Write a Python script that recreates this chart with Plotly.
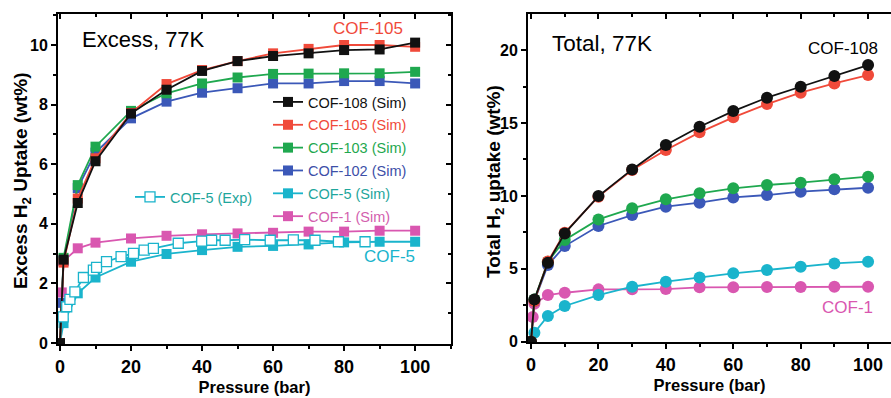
import plotly.graph_objects as go

# ---------------- data ----------------
P = [0, 1, 5, 10, 20, 30, 40, 50, 60, 70, 80, 90, 100]
P_low = [0, 0.5, 1, 5, 10, 20, 30, 40, 50, 60, 70, 80, 90, 100]

# Excess uptake (wt%), 77 K
ex_cof108 = [0, 2.8, 4.7, 6.1, 7.7, 8.5, 9.13, 9.46, 9.63, 9.72, 9.83, 9.85, 10.08]
ex_cof105 = [0, 2.7, 4.85, 6.2, 7.72, 8.69, 9.16, 9.46, 9.72, 9.87, 10.0, 10.0, 9.94]
ex_cof103 = [0, 2.86, 5.3, 6.59, 7.79, 8.38, 8.71, 8.91, 9.03, 9.04, 9.05, 9.05, 9.1]
ex_cof102 = [0, 1.35, 2.75, 5.2, 6.39, 7.54, 8.1, 8.4, 8.55, 8.71, 8.71, 8.79, 8.79, 8.71]
ex_cof5 = [0, 0.67, 1.67, 2.2, 2.73, 2.99, 3.12, 3.23, 3.26, 3.31, 3.38, 3.4, 3.4]
ex_cof1 = [0, 1.7, 2.75, 3.18, 3.37, 3.51, 3.6, 3.65, 3.68, 3.7, 3.74, 3.74, 3.77, 3.77]

exp_P = [0.9, 1.9, 2.8, 4.2, 6.6, 9.4, 10.3, 13.1, 17.2, 20.7, 23.7, 26.3,
         33.3, 39.9, 42.7, 46.5, 52.0, 59.2, 65.7, 71.8, 78.4, 85.9]
exp_cof5 = [0.88, 1.22, 1.47, 1.72, 2.2, 2.45, 2.54, 2.73, 2.9, 3.01, 3.12, 3.18,
            3.35, 3.42, 3.45, 3.45, 3.47, 3.45, 3.46, 3.45, 3.4, 3.4]

# Total uptake (wt%), 77 K
tot_cof108 = [0, 2.9, 5.42, 7.43, 9.99, 11.82, 13.49, 14.75, 15.82, 16.74, 17.49, 18.22, 18.98]
tot_cof105 = [0, 2.8, 5.5, 7.48, 9.95, 11.78, 13.15, 14.36, 15.39, 16.3, 17.08, 17.72, 18.29]
tot_cof103 = [0, 2.9, 5.49, 6.98, 8.39, 9.15, 9.77, 10.18, 10.52, 10.75, 10.91, 11.14, 11.32]
tot_cof102 = [0, 2.8, 5.26, 6.56, 7.94, 8.69, 9.26, 9.54, 9.9, 10.06, 10.29, 10.45, 10.56]
tot_cof5 = [0, 0.62, 1.76, 2.45, 3.2, 3.77, 4.12, 4.41, 4.69, 4.92, 5.14, 5.37, 5.49]
tot_cof1 = [0, 1.7, 2.6, 3.2, 3.36, 3.59, 3.59, 3.61, 3.73, 3.73, 3.75, 3.75, 3.77, 3.77]

x_ticks = [0, 20, 40, 60, 80, 100]
y_ticks_ex = [0, 2, 4, 6, 8, 10]
y_ticks_tot = [0, 5, 10, 15, 20]

# ---------------- styles ----------------
FONT = "Liberation Sans, Arial, sans-serif"
C_BLACK = "#111111"
C_RED = "#f04a3a"
C_GREEN = "#1fa84f"
C_BLUE = "#3b58b8"
C_CYAN = "#1ab4cc"
C_PINK = "#d957b0"

fig = go.Figure()

def colored(txt, col):
    return f"<span style='color:{col}'>{txt}</span>"

# Left panel (excess) — drawn bottom to top
left_series = [
    ("COF-1 (Sim)", P_low, ex_cof1, C_PINK, "#d35fae", 6),
    ("COF-5 (Sim)", P, ex_cof5, C_CYAN, "#1fa69c", 5),
    ("COF-102 (Sim)", P_low, ex_cof102, C_BLUE, "#3d4fa8", 4),
    ("COF-103 (Sim)", P, ex_cof103, C_GREEN, C_GREEN, 3),
    ("COF-105 (Sim)", P, ex_cof105, C_RED, C_RED, 2),
    ("COF-108 (Sim)", P, ex_cof108, C_BLACK, C_BLACK, 1),
]
for name, xs, ys, col, tcol, rank in left_series:
    fig.add_trace(go.Scatter(
        x=xs, y=ys, mode="lines+markers", name=colored(name, tcol),
        line=dict(color=col, width=1.8),
        marker=dict(symbol="square", size=10, color=col),
        xaxis="x", yaxis="y", legend="legend", legendrank=rank,
        legendgroup=name, showlegend=True))

fig.add_trace(go.Scatter(
    x=exp_P, y=exp_cof5, mode="lines+markers", name=colored("COF-5 (Exp)", "#1fa69c"),
    line=dict(color=C_CYAN, width=1.8),
    marker=dict(symbol="square", size=10, color="white", line=dict(color=C_CYAN, width=1.3)),
    xaxis="x", yaxis="y", legend="legend2"))

# Right panel (total)
right_series = [
    (P_low, tot_cof1, C_PINK),
    (P, tot_cof5, C_CYAN),
    (P, tot_cof102, C_BLUE),
    (P, tot_cof103, C_GREEN),
    (P, tot_cof105, C_RED),
    (P, tot_cof108, C_BLACK),
]
for xs, ys, col in right_series:
    fig.add_trace(go.Scatter(
        x=xs, y=ys, mode="lines+markers", showlegend=False,
        line=dict(color=col, width=1.8),
        marker=dict(symbol="circle", size=12, color=col),
        xaxis="x2", yaxis="y2"))

# dummy traces to create overlay axes for inward top/right ticks
fig.add_trace(go.Scatter(x=[None], y=[None], xaxis="x3", yaxis="y3", showlegend=False, hoverinfo="skip"))
fig.add_trace(go.Scatter(x=[None], y=[None], xaxis="x4", yaxis="y4", showlegend=False, hoverinfo="skip"))

W, H = 891, 398
xl_dom = [58 / W, 451 / W]
yl_dom = [(H - 344) / H, (H - 14) / H]
xr_dom = [528 / W, 1.0]
yr_dom = [(H - 342) / H, (H - 14) / H]
xl_rng = [-0.56, 110.1]
yl_rng = [-0.03, 11.04]
xr_rng = [-0.9, 106.8]
yr_rng = [-0.02, 22.48]

tickfont_x = dict(family=FONT, size=18, color="black", weight="bold")
tickfont_y = dict(family=FONT, size=16, color="black", weight="bold")
xtitlefont = dict(family=FONT, size=16.5, color="black", weight="bold")
ytitlefont = dict(family=FONT, size=19, color="black", weight="bold")

base = dict(showgrid=False, zeroline=False, showline=True, linecolor="black",
            linewidth=2, ticks="outside", ticklen=5, tickwidth=1.5, tickcolor="black",
            automargin=False)
ov = dict(showgrid=False, zeroline=False, showline=False, showticklabels=False,
          automargin=False, tickwidth=1.5, tickcolor="black")

fig.update_layout(
    width=W, height=H, margin=dict(l=0, r=0, t=0, b=0, autoexpand=False),
    paper_bgcolor="white", plot_bgcolor="white",
    font=dict(family=FONT, color="black"),
    xaxis=dict(**base, domain=xl_dom, range=xl_rng, anchor="y", mirror=True,
               tickvals=x_ticks, tickfont=tickfont_x,
               minor=dict(dtick=10, tick0=0, ticks="outside", ticklen=3, tickwidth=1.5, tickcolor="black"),
               title=dict(text="Pressure (bar)", font=xtitlefont, standoff=6)),
    yaxis=dict(**base, domain=yl_dom, range=yl_rng, anchor="x", mirror=True,
               tickvals=y_ticks_ex, tickfont=tickfont_y,
               minor=dict(dtick=1, tick0=0, ticks="outside", ticklen=3, tickwidth=1.5, tickcolor="black")),
    xaxis2=dict(**base, domain=xr_dom, range=xr_rng, anchor="y2", mirror=True,
                tickvals=x_ticks, tickfont=tickfont_x,
                minor=dict(dtick=10, tick0=0, ticks="outside", ticklen=3, tickwidth=1.5, tickcolor="black"),
                title=dict(text="Pressure (bar)", font=xtitlefont, standoff=6)),
    yaxis2=dict(**base, domain=yr_dom, range=yr_rng, anchor="x2", mirror=False,
                tickvals=y_ticks_tot, tickfont=tickfont_y,
                minor=dict(dtick=2.5, tick0=0, ticks="outside", ticklen=3, tickwidth=1.5, tickcolor="black")),
    xaxis3=dict(**ov, overlaying="x", side="top", anchor="y3", range=xl_rng,
                tickvals=x_ticks, ticks="inside", ticklen=5,
                minor=dict(dtick=10, tick0=0, ticks="inside", ticklen=3, tickwidth=1.5, tickcolor="black")),
    yaxis3=dict(**ov, overlaying="y", side="right", anchor="x3", range=yl_rng,
                tickvals=y_ticks_ex, ticks="inside", ticklen=5,
                minor=dict(dtick=1, tick0=0, ticks="inside", ticklen=3, tickwidth=1.5, tickcolor="black")),
    xaxis4=dict(**ov, overlaying="x2", side="top", anchor="y4", range=xr_rng,
                tickvals=x_ticks, ticks="inside", ticklen=5,
                minor=dict(dtick=10, tick0=0, ticks="inside", ticklen=3, tickwidth=1.5, tickcolor="black")),
    yaxis4=dict(**ov, overlaying="y2", side="right", anchor="x4", range=yr_rng, ticks=""),
    legend=dict(x=268 / W, y=(H - 86) / H, xanchor="left", yanchor="top",
                bgcolor="rgba(0,0,0,0)", font=dict(family=FONT, size=14.5),
                traceorder="grouped", tracegroupgap=1, itemwidth=30),
    legend2=dict(x=130 / W, y=(H - 181) / H, xanchor="left", yanchor="top",
                 bgcolor="rgba(0,0,0,0)", font=dict(family=FONT, size=14.5), itemwidth=30),
    showlegend=True,
)

annots = [
    dict(text="Excess, 77K", x=5.6, y=10.17, xref="x", yref="y", xanchor="left",
         font=dict(size=22, color="black")),
    dict(text="COF-105", x=86.8, y=10.57, xref="x", yref="y", xanchor="center",
         font=dict(size=17, color=C_RED)),
    dict(text="COF-5", x=92.7, y=2.89, xref="x", yref="y", xanchor="center",
         font=dict(size=17, color=C_CYAN)),
    dict(text="Total, 77K", x=5.6, y=20.49, xref="x2", yref="y2", xanchor="left",
         font=dict(size=22.5, color="black")),
    dict(text="COF-108", x=92.7, y=20.14, xref="x2", yref="y2", xanchor="center",
         font=dict(size=17, color="black")),
    dict(text="COF-1", x=93.8, y=2.38, xref="x2", yref="y2", xanchor="center",
         font=dict(size=17, color=C_PINK)),
    # y-axis titles
    dict(text="Excess H<sub>2</sub> Uptake (wt%)", x=22 / W, y=1 - 181 / H, xref="paper", yref="paper",
         xanchor="center", textangle=-90, font=ytitlefont.copy()),
    dict(text="Total H<sub>2</sub> uptake (wt%)", x=495 / W, y=1 - 182 / H, xref="paper", yref="paper",
         xanchor="center", textangle=-90, font=ytitlefont.copy()),
]
for a in annots:
    a["font"]["family"] = FONT
    fig.add_annotation(showarrow=False, yanchor="middle", **a)

fig.write_html("out.html", config={"displayModeBar": False},
               post_script="document.body.style.margin='0px';document.body.style.padding='0px';")
